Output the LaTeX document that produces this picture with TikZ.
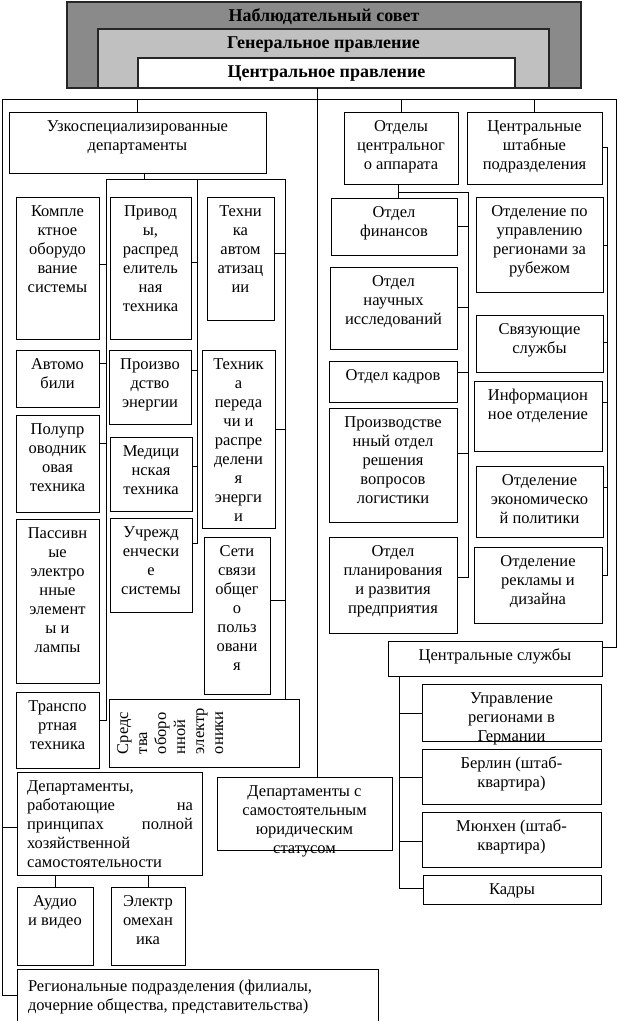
\documentclass[tikz,border=0pt]{standalone}
\usepackage{fontspec}
\setmainfont{Liberation Serif}
\usepackage{graphicx}
\usetikzlibrary{positioning, calc}
\definecolor{Dark}{HTML}{8A8A8A}
\definecolor{Mid}{HTML}{C0C0C0}
\definecolor{Ink}{HTML}{000000}
\newcommand{\cell}[3]{\parbox[t][#2][t]{#1}{\centering\rule{0pt}{19pt}#3}}
\tikzset{
    unit/.style={draw=Ink, line width=0.8pt, anchor=north west, inner sep=0pt, outer sep=0pt, fill=white, font=\fontsize{16.5}{19}\selectfont},
    head/.style={unit, line width=1.3pt, draw=Ink!85, font=\bfseries\fontsize{18}{19}\selectfont},
    link/.style={draw=Ink, line width=0.8pt},
}

\begin{document}
\begin{tikzpicture}[x=1pt, y=-1pt]
                \useasboundingbox (0,0) rectangle (617,1021);
                \fill[white] (0,0) rectangle (617,1021);
                \clip (0,0) rectangle (617,1021);

                % Руководство
                \node[head, fill=Dark] (Sovet) at (67,2) {\cell{514pt}{86pt}{Наблюдательный совет}};
                \node[head, fill=Mid] (Gen) at (98,29) {\cell{451pt}{59pt}{Генеральное правление}};
                \node[head, fill=white] (CP) at (138,58) {\cell{377pt}{30pt}{Центральное правление}};

                % Узкоспециализированные департаменты
                \node[unit] (Uzko) at (9,112) {\cell{257pt}{61pt}{Узкоспециализированные\\департаменты}};
                \node[unit] (Kompl) at (16,197) {\cell{83pt}{142pt}{Компле\\ктное\\оборудо\\вание\\системы}};
                \node[unit] (Privod) at (110,197) {\cell{81pt}{142pt}{Привод\\ы,\\распред\\елитель\\ная\\техника}};
                \node[unit] (Avtomat) at (207,197) {\cell{67pt}{123pt}{Техни\\ка\\автом\\атизац\\ии}};
                \node[unit] (Avto) at (16,350) {\cell{83pt}{57pt}{Автомо\\били}};
                \node[unit] (Energ) at (109,350) {\cell{82pt}{74pt}{Произво\\дство\\энергии}};
                \node[unit] (Pered) at (202,350) {\cell{73pt}{178pt}{Техник\\а\\переда\\чи и\\распре\\делени\\я\\энерги\\и}};
                \node[unit] (Polupr) at (16,415) {\cell{83pt}{97pt}{Полупр\\оводник\\овая\\техника}};
                \node[unit] (Med) at (110,437) {\cell{82pt}{74pt}{Медици\\нская\\техника}};
                \node[unit] (Passiv) at (16,519) {\cell{83pt}{164pt}{Пассивн\\ые\\электро\\нные\\элемент\\ы и\\лампы}};
                \node[unit] (Uchrezh) at (110,518) {\cell{82pt}{94pt}{Учрежд\\енчески\\е\\системы}};
                \node[unit] (Seti) at (204,537) {\cell{66pt}{157pt}{Сети\\связи\\общег\\о\\польз\\овани\\я}};
                \node[unit] (Transp) at (16,692) {\cell{83pt}{76pt}{Транспо\\ртная\\техника}};
                \node[unit] (Oboron) at (109,699) {\rotatebox{90}{\parbox[t][190pt][t]{68pt}{\raggedright\leftskip=13pt\rule{0pt}{19pt}Средс\\тва\\оборо\\нной\\электр\\оники}}};

                % Департаменты с самостоятельностью
                \node[unit] (Polnoy) at (17,772) {\parbox[t][103pt][t]{185pt}{\leftskip=10pt\rightskip=9pt\rule{0pt}{19pt}Департаменты,\\работающие\hfill на\\принципах\hfill полной\\хозяйственной\\самостоятельности}};
                \node[unit] (Audio) at (17,887) {\cell{76pt}{78pt}{Аудио\\и видео}};
                \node[unit] (Elektro) at (111,887) {\cell{74pt}{78pt}{Электр\\омехан\\ика}};
                \node[unit] (Jur) at (217,777) {\cell{175pt}{73pt}{Департаменты с\\самостоятельным\\юридическим\\статусом}};
                \node[unit] (Region) at (17,969) {\parbox[t][61pt][t]{361pt}{\raggedright\leftskip=11pt\rule{0pt}{22pt}Региональные подразделения (филиалы,\\дочерние общества, представительства)}};

                % Отделы центрального аппарата
                \node[unit] (Otdely) at (344,112) {\cell{114pt}{72pt}{Отделы\\центральног\\о аппарата}};
                \node[unit] (Fin) at (331,198) {\cell{126pt}{57pt}{Отдел\\финансов}};
                \node[unit] (Nauch) at (330,267) {\cell{127pt}{82pt}{Отдел\\научных\\исследований}};
                \node[unit] (Kadry1) at (329,361) {\cell{128pt}{41pt}{Отдел кадров}};
                \node[unit] (Proizv) at (329,408) {\cell{128pt}{114pt}{Производстве\\нный отдел\\решения\\вопросов\\логистики}};
                \node[unit] (Plan) at (329,537) {\cell{128pt}{96pt}{Отдел\\планирования\\и развития\\предприятия}};

                % Центральные штабные подразделения
                \node[unit] (Shtab) at (467,112) {\cell{135pt}{72pt}{Центральные\\штабные\\подразделения}};
                \node[unit] (Rubezh) at (476,197) {\cell{127pt}{95pt}{Отделение по\\управлению\\регионами за\\рубежом}};
                \node[unit] (Svyaz) at (476,315) {\cell{127pt}{57pt}{Связующие\\службы}};
                \node[unit] (Inform) at (474,381) {\cell{128pt}{70pt}{Информацион\\ное отделение}};
                \node[unit] (Ekon) at (476,466) {\cell{127pt}{71pt}{Отделение\\экономическо\\й политики}};
                \node[unit] (Reklama) at (474,547) {\cell{128pt}{76pt}{Отделение\\рекламы и\\дизайна}};

                % Центральные службы
                \node[unit] (Centr) at (388,641) {\cell{214pt}{35pt}{Центральные службы}};
                \node[unit] (Upr) at (422,684) {\cell{179pt}{57pt}{Управление\\регионами в\\Германии}};
                \node[unit] (Berlin) at (422,749) {\cell{179pt}{55pt}{Берлин (штаб-\\квартира)}};
                \node[unit] (Munich) at (422,812) {\cell{179pt}{55pt}{Мюнхен (штаб-\\квартира)}};
                \node[unit] (Kadry2) at (423,875) {\cell{178pt}{29pt}{Кадры}};

                % Верхняя шина
                \coordinate (T0) at (317,99);
                \coordinate (TL) at (2,99);
                \coordinate (TR) at (616,99);
                \draw[link] (CP.south -| T0) -- (Jur.north -| T0);
                \draw[link] (TL) -- (TR);
                \draw[link] (TL) |- ([yshift=-26pt]Region.north west);
                \draw[link] ([yshift=-55pt]Polnoy.north west) -| (TL);
                \draw[link] (TR) |- ([yshift=-6pt]Centr.north east);
                \draw[link] (Uzko.north) -- (Uzko.north |- TL);
                \draw[link] (Otdely.north) -- (Otdely.north |- TL);
                \draw[link] (Shtab.north) -- (Shtab.north |- TL);

                % Шины узкоспециализированных департаментов
                \coordinate (U0) at (144,179);
                \coordinate (UL) at (106,179);
                \coordinate (UM) at (197,179);
                \coordinate (UR) at (285,179);
                \draw[link] (Uzko.south -| U0) -- (U0);
                \draw[link] (UL) -- (UR);
                \draw[link] (UL) |- ([yshift=-28pt]Transp.north east);
                \draw[link] ([yshift=-67pt]Kompl.north east) -| (UL);
                \draw[link] ([yshift=-13pt]Avto.north east) -| (UL);
                \draw[link] ([yshift=-28pt]Polupr.north east) -| (UL);
                \draw[link] (UM) |- ([yshift=-25pt]Uchrezh.north east);
                \draw[link] ([yshift=-65pt]Privod.north east) -| (UM);
                \draw[link] ([yshift=-20pt]Energ.north east) -| (UM);
                \draw[link] ([yshift=-29pt]Med.north east) -| (UM);
                \draw[link] (UR) -- (Oboron.north -| UR);
                \draw[link] ([yshift=-56pt]Avtomat.north east) -| (UR);
                \draw[link] ([yshift=-79pt]Pered.north east) -| (UR);
                \draw[link] ([yshift=-63pt]Seti.north east) -| (UR);
                \draw[link] (Audio.north) -- (Audio.north |- Polnoy.south);
                \draw[link] (Elektro.north) -- (Elektro.north |- Polnoy.south);

                % Шина отделов центрального аппарата
                \coordinate (O0) at (398,192);
                \coordinate (OB) at (468,192);
                \draw[link] (Otdely.south -| O0) -- (Fin.north -| O0);
                \draw[link] (O0) -- (OB);
                \draw[link] (OB) |- ([yshift=-40pt]Plan.north east);
                \draw[link] ([yshift=-28pt]Fin.north east) -| (OB);
                \draw[link] ([yshift=-40pt]Nauch.north east) -| (OB);
                \draw[link] ([yshift=-11pt]Kadry1.north east) -| (OB);
                \draw[link] ([yshift=-45pt]Proizv.north east) -| (OB);

                % Шина штабных подразделений
                \coordinate (S0) at (607,147);
                \draw[link] ([yshift=-35pt]Shtab.north east) -- (S0);
                \draw[link] (S0) |- ([yshift=-28pt]Reklama.north east);
                \draw[link] ([yshift=-48pt]Rubezh.north east) -| (S0);
                \draw[link] ([yshift=-27pt]Svyaz.north east) -| (S0);
                \draw[link] ([yshift=-21pt]Inform.north east) -| (S0);
                \draw[link] ([yshift=-21pt]Ekon.north east) -| (S0);

                % Шина центральных служб
                \coordinate (C0) at (399,676);
                \draw[link] (C0) |- ([yshift=-13pt]Kadry2.north west);
                \draw[link] ([yshift=-29pt]Upr.north west) -| (C0);
                \draw[link] ([yshift=-28pt]Berlin.north west) -| (C0);
                \draw[link] ([yshift=-29pt]Munich.north west) -| (C0);

\end{tikzpicture}
\end{document}
